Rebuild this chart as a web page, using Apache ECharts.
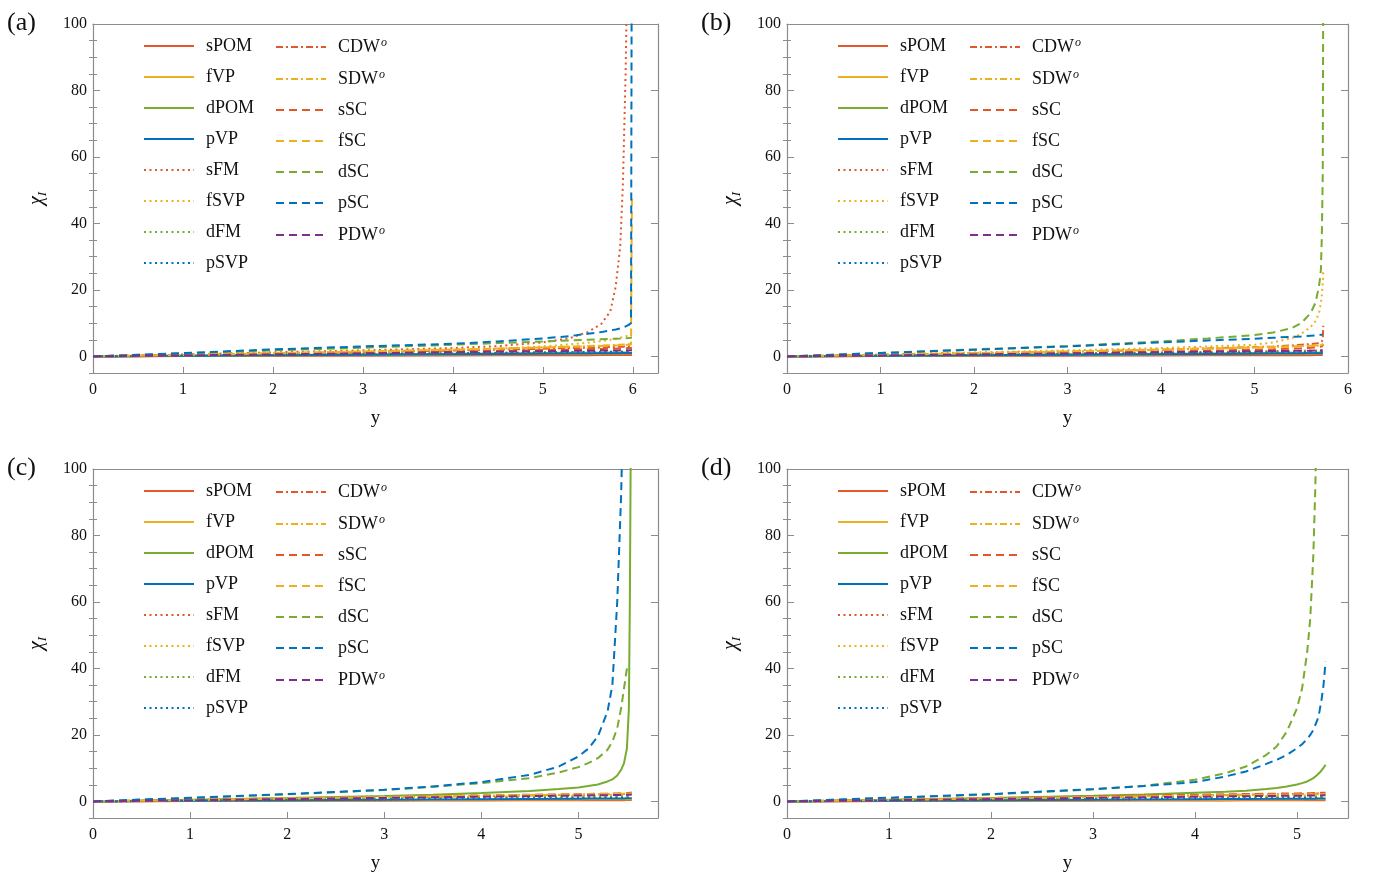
<!DOCTYPE html>
<html>
<head>
<meta charset="utf-8">
<script src="https://cdn.jsdelivr.net/npm/echarts@6/dist/echarts.min.js"></script>
<style>
  html, body { margin: 0; padding: 0; background: #ffffff; }
  #chart { width: 1376px; height: 882px; }
</style>
</head>
<body>
<div id="chart"></div>
<script>
// Susceptibility chi_I versus RG time y for the competing orders, four parameter sets.

const names = ['sPOM', 'fVP', 'dPOM', 'pVP', 'sFM', 'fSVP', 'dFM', 'pSVP',
               'CDW', 'SDW', 'sSC', 'fSC', 'dSC', 'pSC', 'PDW'];
const yTickValues = [0, 20, 40, 60, 80, 100];

// ---- panel (a) ----
const xA = [0, 1, 2, 3, 4, 4.5, 5, 5.3, 5.5, 5.65, 5.75, 5.81, 5.86, 5.89, 5.92, 5.95, 5.98, 5.99];
const valuesA = {
  sPOM: [0, .08, .15, .22, .28, .31, .34, .36, .37, .38, .39, .39, .40, .40, .40, .40, .41, .41],
  fVP:  [0, .15, .3, .45, .6, .67, .75, .8, .83, .86, .88, .89, .9, .9, .91, .92, .93, .93],
  dPOM: [0, .2, .4, .6, .8, .9, 1.0, 1.06, 1.1, 1.13, 1.15, 1.16, 1.17, 1.18, 1.19, 1.2, 1.21, 1.22],
  pVP:  [0, .17, .33, .5, .66, .74, .82, .87, .9, .93, .95, .96, .97, .98, .99, 1.0, 1.01, 1.02],
  sFM:  [0, .6, 1.2, 1.8, 2.5, 3.1, 4.2, 5.5, 7.3, 9.8, 13.5, 21, 33, 52, 85, 140, null, null],
  fSVP: [0, .35, .75, 1.2, 1.8, 2.3, 3.0, 3.6, 4.1, 4.6, 5.0, 5.3, 5.6, 5.8, 6.0, 6.3, 6.7, 6.8],
  dFM:  [0, .25, .5, .75, 1.0, 1.12, 1.25, 1.33, 1.38, 1.42, 1.45, 1.47, 1.49, 1.5, 1.51, 1.53, 1.55, 1.56],
  pSVP: [0, .22, .45, .67, .9, 1.0, 1.12, 1.2, 1.25, 1.28, 1.31, 1.33, 1.34, 1.35, 1.36, 1.37, 1.38, 1.39],
  CDW:  [0, .4, .8, 1.25, 1.75, 2.0, 2.3, 2.5, 2.6, 2.7, 2.8, 2.85, 2.9, 2.92, 2.95, 3.0, 3.1, 3.2],
  SDW:  [0, .45, .95, 1.45, 2.0, 2.3, 2.7, 2.95, 3.1, 3.25, 3.35, 3.45, 3.5, 3.55, 3.6, 3.7, 3.9, 4.2],
  sSC:  [0, .35, .7, 1.05, 1.45, 1.65, 1.9, 2.05, 2.15, 2.25, 2.3, 2.35, 2.4, 2.42, 2.45, 2.5, 2.55, 2.6],
  fSC:  [0, .5, 1.0, 1.5, 2.05, 2.35, 2.7, 2.9, 3.05, 3.15, 3.25, 3.3, 3.35, 3.4, 3.45, 3.5, 3.6, 48],
  dSC:  [0, .9, 1.8, 2.6, 3.5, 4.0, 4.5, 4.8, 5.0, 5.15, 5.25, 5.3, 5.35, 5.4, 5.45, 5.5, 5.6, 5.7],
  pSC:  [0, 1.0, 2.1, 3.0, 3.8, 4.5, 5.4, 6.1, 6.8, 7.3, 7.8, 8.1, 8.4, 8.7, 9.0, 9.4, 10.0, 150],
  PDW:  [0, .3, .6, .9, 1.25, 1.4, 1.55, 1.65, 1.7, 1.75, 1.78, 1.8, 1.82, 1.84, 1.86, 1.88, 1.9, 1.92]
};

// ---- panel (b) ----
const xB = [0, 1, 2, 3, 4, 4.5, 5, 5.2, 5.4, 5.5, 5.6, 5.65, 5.69, 5.71, 5.72, 5.73, 5.735];
const valuesB = {
  sPOM: [0, .08, .15, .22, .28, .31, .34, .35, .36, .37, .37, .38, .38, .38, .38, .39, .39],
  fVP:  [0, .15, .3, .45, .6, .67, .75, .78, .81, .83, .85, .86, .87, .87, .88, .88, .89],
  dPOM: [0, .2, .4, .6, .8, .9, 1.0, 1.04, 1.08, 1.1, 1.12, 1.13, 1.14, 1.15, 1.15, 1.16, 1.16],
  pVP:  [0, .17, .33, .5, .66, .74, .82, .85, .88, .9, .92, .93, .94, .94, .95, .95, .95],
  sFM:  [0, .3, .6, .9, 1.2, 1.35, 1.5, 1.58, 1.65, 1.7, 1.75, 1.78, 1.8, 1.82, 1.84, 1.86, 1.9],
  fSVP: [0, .6, 1.2, 1.8, 2.5, 3.0, 3.5, 4.2, 5.5, 6.8, 8.8, 10.5, 13, 16, 18.5, 22, 26],
  dFM:  [0, .25, .5, .75, 1.0, 1.12, 1.25, 1.3, 1.35, 1.38, 1.4, 1.41, 1.42, 1.43, 1.44, 1.45, 1.46],
  pSVP: [0, .22, .45, .67, .9, 1.0, 1.12, 1.16, 1.2, 1.22, 1.24, 1.25, 1.26, 1.27, 1.28, 1.29, 1.3],
  CDW:  [0, .45, .9, 1.4, 2.0, 2.4, 2.8, 3.0, 3.3, 3.5, 3.7, 3.85, 4.0, 4.2, 4.5, 5.2, 9.2],
  SDW:  [0, .45, .95, 1.45, 2.0, 2.3, 2.7, 2.85, 3.0, 3.1, 3.2, 3.25, 3.3, 3.35, 3.4, 3.5, 3.7],
  sSC:  [0, .35, .7, 1.05, 1.45, 1.7, 2.0, 2.15, 2.35, 2.45, 2.6, 2.7, 2.8, 2.9, 3.0, 3.2, 3.6],
  fSC:  [0, .5, 1.0, 1.5, 2.05, 2.35, 2.7, 2.85, 3.0, 3.1, 3.2, 3.25, 3.3, 3.35, 3.4, 3.5, 3.8],
  dSC:  [0, 1.05, 2.1, 3.1, 4.5, 5.4, 6.4, 7.2, 8.5, 10, 13, 16, 21, 26, 36, 55, 110],
  pSC:  [0, 1.0, 2.0, 3.0, 4.2, 4.8, 5.3, 5.6, 5.9, 6.0, 6.2, 6.3, 6.4, 6.5, 6.55, 6.6, 6.7],
  PDW:  [0, .3, .6, .9, 1.25, 1.4, 1.55, 1.6, 1.66, 1.7, 1.73, 1.75, 1.76, 1.77, 1.78, 1.79, 1.8]
};

// ---- panel (c) ----
const xC = [0, 1, 2, 3, 3.5, 4, 4.5, 4.8, 5.0, 5.1, 5.2, 5.3, 5.35, 5.4, 5.44, 5.47, 5.5, 5.52, 5.53, 5.54, 5.55];
const valuesC = {
  sPOM: [0, .08, .15, .22, .25, .28, .31, .33, .34, .35, .35, .36, .36, .37, .37, .37, .38, .38, .38, .38, .38],
  fVP:  [0, .12, .25, .37, .43, .49, .55, .58, .6, .61, .62, .63, .64, .64, .65, .65, .65, .66, .66, .66, .66],
  dPOM: [0, .5, 1.0, 1.6, 2.0, 2.5, 3.1, 3.7, 4.2, 4.6, 5.1, 6.0, 6.6, 7.8, 9.5, 11.5, 16, 28, 60, 110, 160],
  pVP:  [0, .17, .33, .5, .58, .66, .74, .79, .82, .84, .86, .87, .88, .89, .9, .9, .91, .91, .91, .92, .92],
  sFM:  [0, .3, .6, .9, 1.05, 1.2, 1.35, 1.45, 1.5, 1.53, 1.56, 1.6, 1.62, 1.64, 1.66, 1.67, 1.68, 1.69, 1.7, 1.7, 1.71],
  fSVP: [0, .35, .7, 1.05, 1.22, 1.4, 1.6, 1.7, 1.78, 1.82, 1.86, 1.9, 1.92, 1.94, 1.96, 1.98, 2.0, 2.02, 2.03, 2.04, 2.05],
  dFM:  [0, .25, .5, .75, .88, 1.0, 1.12, 1.2, 1.25, 1.27, 1.3, 1.32, 1.33, 1.34, 1.35, 1.36, 1.37, 1.38, 1.38, 1.39, 1.39],
  pSVP: [0, .2, .4, .6, .7, .8, .9, .96, 1.0, 1.02, 1.04, 1.06, 1.07, 1.08, 1.09, 1.1, 1.11, 1.12, 1.12, 1.12, 1.13],
  CDW:  [0, .4, .8, 1.2, 1.4, 1.6, 1.8, 1.92, 2.0, 2.05, 2.1, 2.15, 2.18, 2.2, 2.22, 2.25, 2.3, 2.35, 2.4, 2.45, 2.5],
  SDW:  [0, .42, .85, 1.27, 1.5, 1.7, 1.9, 2.0, 2.08, 2.12, 2.16, 2.2, 2.22, 2.24, 2.26, 2.28, 2.3, 2.33, 2.35, 2.38, 2.4],
  sSC:  [0, .45, .9, 1.35, 1.58, 1.8, 2.0, 2.12, 2.2, 2.25, 2.3, 2.35, 2.38, 2.4, 2.42, 2.45, 2.5, 2.55, 2.6, 2.65, 2.7],
  fSC:  [0, .45, .9, 1.32, 1.52, 1.72, 1.92, 2.03, 2.1, 2.14, 2.18, 2.22, 2.24, 2.26, 2.28, 2.3, 2.32, 2.35, 2.38, 2.4, 2.45],
  dSC:  [0, 1.0, 2.1, 3.4, 4.4, 5.5, 7.0, 8.7, 10.3, 11.5, 13, 15.5, 18, 22, 28, 34, 40, null, null, null, null],
  pSC:  [0, 1.1, 2.2, 3.5, 4.5, 5.8, 8.0, 10.5, 13.5, 15.8, 19.5, 27, 35, 60, 92, 130, null, null, null, null, null],
  PDW:  [0, .35, .7, 1.05, 1.22, 1.4, 1.58, 1.68, 1.75, 1.79, 1.83, 1.87, 1.89, 1.91, 1.93, 1.95, 1.97, 1.99, 2.0, 2.02, 2.05]
};

// ---- panel (d) ----
const xD = [0, 1, 2, 3, 3.5, 4, 4.3, 4.5, 4.7, 4.8, 4.9, 5.0, 5.05, 5.1, 5.13, 5.16, 5.18, 5.2, 5.22, 5.24, 5.26, 5.28];
const valuesD = {
  sPOM: [0, .08, .15, .22, .25, .28, .3, .31, .32, .33, .33, .34, .34, .34, .35, .35, .35, .35, .35, .36, .36, .36],
  fVP:  [0, .12, .25, .37, .43, .49, .52, .55, .57, .58, .59, .6, .6, .61, .61, .61, .62, .62, .62, .62, .63, .63],
  dPOM: [0, .5, 1.05, 1.7, 2.1, 2.6, 2.9, 3.2, 3.7, 4.0, 4.5, 5.1, 5.5, 6.0, 6.5, 7.0, 7.5, 8.0, 8.6, 9.3, 10.1, 11],
  pVP:  [0, .17, .33, .5, .58, .66, .7, .73, .76, .78, .79, .8, .81, .81, .82, .82, .82, .83, .83, .83, .84, .84],
  sFM:  [0, .3, .6, .9, 1.05, 1.2, 1.29, 1.35, 1.41, 1.44, 1.47, 1.5, 1.51, 1.53, 1.54, 1.55, 1.55, 1.56, 1.57, 1.57, 1.58, 1.59],
  fSVP: [0, .35, .7, 1.05, 1.22, 1.4, 1.5, 1.58, 1.65, 1.68, 1.72, 1.75, 1.77, 1.79, 1.8, 1.81, 1.82, 1.83, 1.84, 1.85, 1.86, 1.87],
  dFM:  [0, .25, .5, .75, .88, 1.0, 1.07, 1.12, 1.17, 1.19, 1.21, 1.23, 1.24, 1.25, 1.26, 1.26, 1.27, 1.27, 1.28, 1.28, 1.29, 1.29],
  pSVP: [0, .2, .4, .6, .7, .8, .86, .9, .94, .96, .98, 1.0, 1.01, 1.02, 1.02, 1.03, 1.03, 1.04, 1.04, 1.05, 1.05, 1.06],
  CDW:  [0, .45, .9, 1.35, 1.58, 1.8, 1.93, 2.02, 2.1, 2.14, 2.18, 2.22, 2.24, 2.26, 2.28, 2.3, 2.32, 2.34, 2.36, 2.38, 2.4, 2.42],
  SDW:  [0, .42, .85, 1.27, 1.5, 1.7, 1.82, 1.9, 1.97, 2.0, 2.04, 2.08, 2.1, 2.12, 2.13, 2.14, 2.15, 2.16, 2.17, 2.18, 2.19, 2.2],
  sSC:  [0, .5, 1.0, 1.5, 1.75, 2.0, 2.12, 2.2, 2.28, 2.32, 2.36, 2.4, 2.42, 2.45, 2.47, 2.49, 2.5, 2.52, 2.54, 2.56, 2.58, 2.6],
  fSC:  [0, .45, .9, 1.32, 1.52, 1.72, 1.83, 1.9, 1.97, 2.0, 2.03, 2.06, 2.08, 2.1, 2.11, 2.12, 2.13, 2.14, 2.15, 2.16, 2.17, 2.18],
  dSC:  [0, 1.0, 2.1, 3.6, 4.7, 6.5, 8.5, 10.5, 14, 16.5, 21, 28, 34, 45, 55, 74, 95, 130, null, null, null, null],
  pSC:  [0, 1.1, 2.2, 3.7, 4.6, 5.8, 7.5, 9, 11.3, 12.5, 14, 16, 17.2, 18.8, 20, 21.5, 23, 24.5, 27, 30.5, 35, 42],
  PDW:  [0, .35, .7, 1.05, 1.22, 1.4, 1.5, 1.56, 1.62, 1.65, 1.68, 1.71, 1.72, 1.74, 1.75, 1.76, 1.77, 1.78, 1.79, 1.8, 1.81, 1.82]
};

// ---- styling ----
const RED = '#E4572B', YEL = '#EDB120', GRN = '#77AC30', BLU = '#0072BD', PUR = '#7E2F8E';
const colorOf = {
  sPOM: RED, fVP: YEL, dPOM: GRN, pVP: BLU,
  sFM: RED, fSVP: YEL, dFM: GRN, pSVP: BLU,
  CDW: RED, SDW: YEL, sSC: RED, fSC: YEL, dSC: GRN, pSC: BLU, PDW: PUR
};
const SOLID = 'solid', DOT = [2, 3.5], DASH = [8, 5], DASHDOT = [7, 3, 2, 3];
const dashOf = {
  sPOM: SOLID, fVP: SOLID, dPOM: SOLID, pVP: SOLID,
  sFM: DOT, fSVP: DOT, dFM: DOT, pSVP: DOT,
  CDW: DASHDOT, SDW: DASHDOT,
  sSC: DASH, fSC: DASH, dSC: DASH, pSC: DASH, PDW: DASH
};
const superscripted = ['CDW', 'SDW', 'PDW'];

const FONT = 'Liberation Serif';
const FRAME = '#8c8c8c';

const panels = [
  { tag: '(a)', x: xA, v: valuesA, xMax: 6.28, xTicks: [0, 1, 2, 3, 4, 5, 6], left: 93, top: 24, width: 565 },
  { tag: '(b)', x: xB, v: valuesB, xMax: 6.0, xTicks: [0, 1, 2, 3, 4, 5, 6], left: 787, top: 24, width: 561 },
  { tag: '(c)', x: xC, v: valuesC, xMax: 5.82, xTicks: [0, 1, 2, 3, 4, 5], left: 93, top: 469, width: 565 },
  { tag: '(d)', x: xD, v: valuesD, xMax: 5.5, xTicks: [0, 1, 2, 3, 4, 5], left: 787, top: 469, width: 561 }
];
const PLOT_H = 349;
const minorY = [];
for (let t = -5; t <= 100; t += 5) if (t % 20 !== 0) minorY.push(t);

const grid = [], xAxis = [], yAxis = [], series = [], legend = [], title = [];

panels.forEach((p, k) => {
  grid.push({ left: p.left, top: p.top, width: p.width, height: PLOT_H, containLabel: false });

  title.push({
    text: p.tag, left: p.left - 91, top: p.top - 19,
    textStyle: { fontFamily: FONT, fontSize: 26, fontWeight: 'normal', color: '#111' }
  });

  // bottom axis with labels, top axis as plain frame edge
  xAxis.push({
    type: 'value', gridIndex: k, position: 'bottom', min: 0, max: p.xMax,
    name: 'y', nameLocation: 'middle', nameGap: 36,
    nameTextStyle: { fontFamily: FONT, fontSize: 19, color: '#111' },
    axisLine: { show: true, onZero: false, lineStyle: { color: FRAME, width: 1.2 } },
    axisTick: { show: true, inside: true, length: 6, customValues: p.xTicks, lineStyle: { color: FRAME } },
    axisLabel: { show: true, customValues: p.xTicks, margin: 9,
                 fontFamily: FONT, fontSize: 16, color: '#111' },
    splitLine: { show: false }
  });
  xAxis.push({
    type: 'value', gridIndex: k, position: 'top', min: 0, max: p.xMax,
    axisLine: { show: true, onZero: false, lineStyle: { color: FRAME, width: 1.2 } },
    axisTick: { show: false }, axisLabel: { show: false }, splitLine: { show: false }
  });

  const yBase = {
    type: 'value', gridIndex: k, min: -5, max: 100, splitLine: { show: false }
  };
  yAxis.push(Object.assign({}, yBase, {
    position: 'left',
    name: '{c|χ}{i|I}', nameLocation: 'middle', nameGap: 44, nameRotate: 90,
    nameTextStyle: {
      rich: {
        c: { fontFamily: FONT, fontStyle: 'italic', fontSize: 20, color: '#111', lineHeight: 24, verticalAlign: 'middle' },
        i: { fontFamily: FONT, fontStyle: 'italic', fontSize: 13, color: '#111', lineHeight: 24, verticalAlign: 'bottom' }
      }
    },
    axisLine: { show: true, onZero: false, lineStyle: { color: FRAME, width: 1.2 } },
    axisTick: { show: true, inside: true, length: 7, customValues: yTickValues, lineStyle: { color: FRAME } },
    axisLabel: { show: true, customValues: yTickValues, margin: 6,
                 fontFamily: FONT, fontSize: 16, color: '#111' }
  }));
  yAxis.push(Object.assign({}, yBase, {
    position: 'left',
    axisLine: { show: false },
    axisTick: { show: true, inside: true, length: 4, customValues: minorY, lineStyle: { color: FRAME } },
    axisLabel: { show: false }
  }));
  yAxis.push(Object.assign({}, yBase, {
    position: 'right',
    axisLine: { show: true, onZero: false, lineStyle: { color: FRAME, width: 1.2 } },
    axisTick: { show: true, inside: true, length: 7, customValues: yTickValues, lineStyle: { color: FRAME } },
    axisLabel: { show: false }
  }));
  yAxis.push(Object.assign({}, yBase, {
    position: 'right',
    axisLine: { show: false },
    axisTick: { show: true, inside: true, length: 4, customValues: minorY, lineStyle: { color: FRAME } },
    axisLabel: { show: false }
  }));

  names.forEach(name => {
    const vals = p.v[name];
    const data = [];
    p.x.forEach((xv, i) => { if (vals[i] !== null) data.push([xv, vals[i]]); });
    series.push({
      type: 'line', name: name,
      xAxisIndex: 2 * k, yAxisIndex: 4 * k,
      data: data,
      symbol: 'none', showSymbol: false, smooth: false, clip: true,
      silent: true, animation: false,
      lineStyle: { color: colorOf[name], width: 2, type: dashOf[name] },
      itemStyle: { color: colorOf[name] }
    });
  });

  // two-column legend, line samples only (marker hidden)
  const legendCommon = {
    orient: 'vertical', itemWidth: 50, itemHeight: 14, itemGap: 13, padding: 0,
    selectedMode: false,
    itemStyle: { color: 'rgba(0,0,0,0)', borderColor: 'rgba(0,0,0,0)', borderWidth: 0, opacity: 0 },
    formatter: n => superscripted.includes(n) ? '{n|' + n + '}{s|o}' : '{n|' + n + '}',
    textStyle: {
      padding: [0, 0, 0, 7],
      rich: {
        n: { fontFamily: FONT, fontSize: 18, color: '#111', lineHeight: 20 },
        s: { fontFamily: FONT, fontSize: 12, fontStyle: 'italic', color: '#111', lineHeight: 20, verticalAlign: 'top', padding: [0, 0, 6, 1] }
      }
    }
  };
  legend.push(Object.assign({}, legendCommon, {
    data: names.slice(0, 8), left: p.left + 50, top: p.top + 13
  }));
  legend.push(Object.assign({}, legendCommon, {
    data: names.slice(8), left: p.left + 182, top: p.top + 13
  }));
});

const chart = echarts.init(document.getElementById('chart'), null, { renderer: 'canvas' });
chart.setOption({
  backgroundColor: '#ffffff',
  animation: false,
  title: title,
  grid: grid,
  xAxis: xAxis,
  yAxis: yAxis,
  legend: legend,
  series: series
});
</script>
</body>
</html>
